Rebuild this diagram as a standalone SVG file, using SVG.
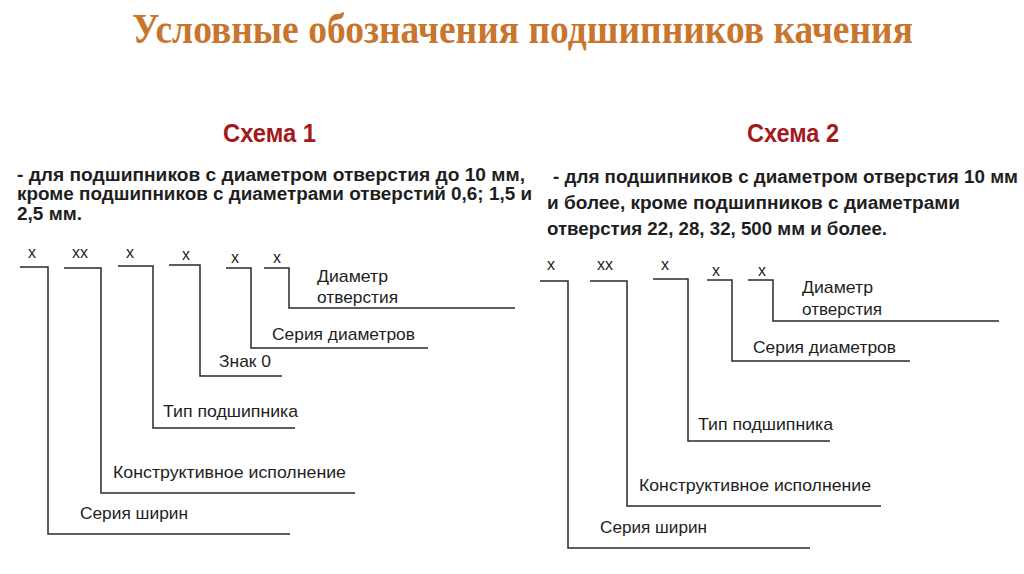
<svg xmlns="http://www.w3.org/2000/svg" width="1024" height="574" viewBox="0 0 1024 574">
<style>
.title{font-family:"Liberation Serif",serif;font-weight:bold;font-size:42px;fill:#c8752d}
.head{font-family:"Liberation Sans",Arial,sans-serif;font-weight:bold;font-size:25px;fill:#a3191c}
.desc{font-family:"Liberation Sans",Arial,sans-serif;font-weight:bold;font-size:18px;fill:#1e1e1e}
.lbl{font-family:"Liberation Sans",Arial,sans-serif;font-size:17px;fill:#1e1e1e}
.code{font-family:"Liberation Sans",Arial,sans-serif;font-size:16px;fill:#1e1e1e}
.ln{fill:none;stroke:#2a2a2a;stroke-width:1.5}
</style>
<rect width="1024" height="574" fill="#ffffff"/>
<text id="title" class="title" x="132" y="43" textLength="781" lengthAdjust="spacingAndGlyphs">Условные обозначения подшипников качения</text>

<g id="scheme1-header">
<text class="head" x="223" y="142" textLength="93" lengthAdjust="spacingAndGlyphs">Схема 1</text>
<text class="desc" x="17" y="181" textLength="508" lengthAdjust="spacingAndGlyphs">- для подшипников с диаметром отверстия до 10 мм,</text>
<text class="desc" x="17" y="200" textLength="515" lengthAdjust="spacingAndGlyphs">кроме подшипников с диаметрами отверстий 0,6; 1,5 и</text>
<text class="desc" x="17" y="220" textLength="65" lengthAdjust="spacingAndGlyphs">2,5 мм.</text>
</g>

<g id="scheme2-header">
<text class="head" x="747" y="142" textLength="92" lengthAdjust="spacingAndGlyphs">Схема 2</text>
<text class="desc" x="553" y="183" textLength="465" lengthAdjust="spacingAndGlyphs">- для подшипников с диаметром отверстия 10 мм</text>
<text class="desc" x="547" y="209" textLength="413" lengthAdjust="spacingAndGlyphs">и более, кроме подшипников с диаметрами</text>
<text class="desc" x="547" y="235" textLength="340" lengthAdjust="spacingAndGlyphs">отверстия 22, 28, 32, 500 мм и более.</text>
</g>

<g id="scheme1-codes">
<text class="code" x="32" y="258" text-anchor="middle">x</text>
<text class="code" x="80" y="258" text-anchor="middle">xx</text>
<text class="code" x="130" y="258" text-anchor="middle">x</text>
<text class="code" x="186" y="260" text-anchor="middle">x</text>
<text class="code" x="235" y="263" text-anchor="middle">x</text>
<text class="code" x="277" y="263" text-anchor="middle">x</text>
</g>

<g id="scheme1-labels">
<text class="lbl" x="317" y="282" textLength="71" lengthAdjust="spacingAndGlyphs">Диаметр</text>
<text class="lbl" x="317" y="303" textLength="81" lengthAdjust="spacingAndGlyphs">отверстия</text>
<text class="lbl" x="272" y="340" textLength="143" lengthAdjust="spacingAndGlyphs">Серия диаметров</text>
<text class="lbl" x="219" y="367" textLength="52" lengthAdjust="spacingAndGlyphs">Знак 0</text>
<text class="lbl" x="163" y="417" textLength="135" lengthAdjust="spacingAndGlyphs">Тип подшипника</text>
<text class="lbl" x="113" y="478" textLength="233" lengthAdjust="spacingAndGlyphs">Конструктивное исполнение</text>
<text class="lbl" x="80" y="519" textLength="108" lengthAdjust="spacingAndGlyphs">Серия ширин</text>
</g>

<g id="scheme2-codes">
<text class="code" x="551" y="270" text-anchor="middle">x</text>
<text class="code" x="605" y="270" text-anchor="middle">xx</text>
<text class="code" x="665" y="270" text-anchor="middle">x</text>
<text class="code" x="716" y="276" text-anchor="middle">x</text>
<text class="code" x="762" y="276" text-anchor="middle">x</text>
</g>

<g id="scheme2-labels">
<text class="lbl" x="802" y="293" textLength="71" lengthAdjust="spacingAndGlyphs">Диаметр</text>
<text class="lbl" x="802" y="315" textLength="80" lengthAdjust="spacingAndGlyphs">отверстия</text>
<text class="lbl" x="753" y="353" textLength="143" lengthAdjust="spacingAndGlyphs">Серия диаметров</text>
<text class="lbl" x="698" y="430" textLength="135" lengthAdjust="spacingAndGlyphs">Тип подшипника</text>
<text class="lbl" x="639" y="491" textLength="232" lengthAdjust="spacingAndGlyphs">Конструктивное исполнение</text>
<text class="lbl" x="600" y="533" textLength="107" lengthAdjust="spacingAndGlyphs">Серия ширин</text>
</g>

<g id="connectors">
<polyline class="ln" points="20,267 48,267 48,534 290,534"/>
<polyline class="ln" points="64,268 101,268 101,493 355,493"/>
<polyline class="ln" points="118,266 153,266 153,428 295,428"/>
<polyline class="ln" points="169,265 200,265 200,376 282,376"/>
<polyline class="ln" points="226,268 251,268 251,348 428,348"/>
<polyline class="ln" points="264,268 289,268 289,308 515,308"/>

<polyline class="ln" points="540,281 568,281 568,548 810,548"/>
<polyline class="ln" points="590,281 627,281 627,506 881,506"/>
<polyline class="ln" points="653,279 688,279 688,441 830,441"/>
<polyline class="ln" points="707,280 732,280 732,361 910,361"/>
<polyline class="ln" points="748,280 773,280 773,321 999,321"/>
</g>
</svg>
